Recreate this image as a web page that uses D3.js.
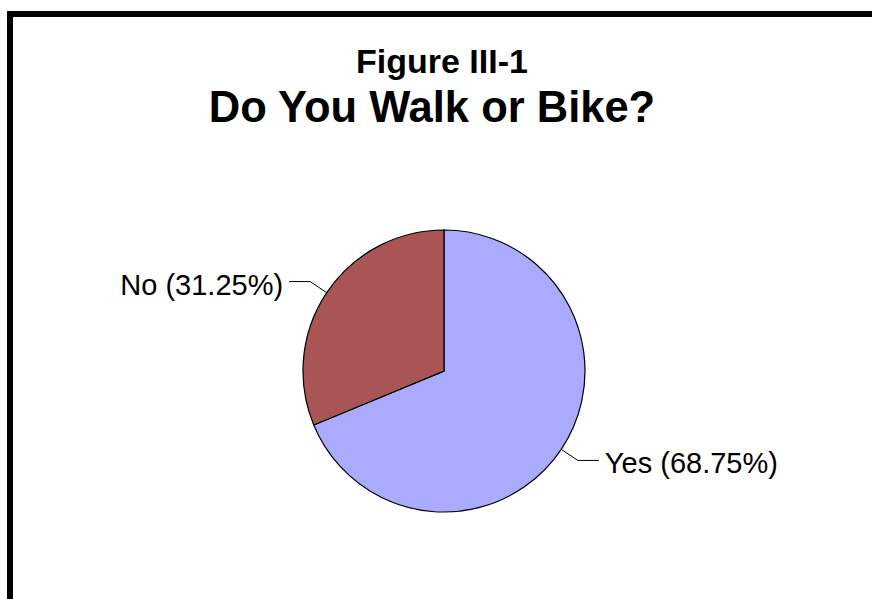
<!DOCTYPE html>
<html>
<head>
<meta charset="utf-8">
<script src="https://cdn.jsdelivr.net/npm/d3@7"></script>
<style>
  body { margin: 0; background: #fff; }
  text { font-family: Arial, "Liberation Sans", sans-serif; }
</style>
</head>
<body>
<div id="chart"></div>
<script>
var categories = ["Yes", "No"];
var values = [68.75, 31.25];
var colors = ["#aaaaff", "#aa5555"];
var titleLines = ["Figure III-1", "Do You Walk or Bike?"];

var width = 872, height = 599;
var cx = 444, cy = 371, radius = 141;

var svg = d3.select("#chart").append("svg")
    .attr("width", width)
    .attr("height", height);

svg.append("rect")
    .attr("width", width)
    .attr("height", height)
    .attr("fill", "#fff");

// frame (right and bottom edges run off the page)
svg.append("rect")
    .attr("x", 10)
    .attr("y", 14)
    .attr("width", 880)
    .attr("height", 640)
    .attr("fill", "none")
    .attr("stroke", "#000")
    .attr("stroke-width", 6);

// title
svg.append("text")
    .attr("x", 442)
    .attr("y", 73)
    .attr("text-anchor", "middle")
    .style("font-size", "34px")
    .style("font-weight", "bold")
    .text(titleLines[0]);

svg.append("text")
    .attr("x", 432)
    .attr("y", 122)
    .attr("text-anchor", "middle")
    .style("font-size", "43.5px")
    .style("font-weight", "bold")
    .text(titleLines[1]);

var data = categories.map(function (c, i) {
    return {name: c, value: values[i], color: colors[i]};
});

var pie = d3.pie()
    .sort(null)
    .value(function (d) { return d.value; });

var arc = d3.arc()
    .innerRadius(0)
    .outerRadius(radius);

var g = svg.append("g")
    .attr("transform", "translate(" + cx + "," + cy + ")");

var arcs = pie(data);

g.selectAll("path")
    .data(arcs)
    .enter()
    .append("path")
    .attr("d", arc)
    .attr("fill", function (d) { return d.data.color; })
    .attr("stroke", "#000")
    .attr("stroke-width", 1.2);

// leader lines and labels
arcs.forEach(function (d) {
    var mid = (d.startAngle + d.endAngle) / 2;
    var sx = Math.sin(mid), sy = -Math.cos(mid);
    var p0 = [sx * radius, sy * radius];
    var p1 = [sx * (radius + 20), sy * (radius + 20)];
    var side = sx >= 0 ? 1 : -1;
    var p2 = [p1[0] + side * 21, p1[1]];

    g.append("path")
        .attr("d", d3.line()([p0, p1, p2]))
        .attr("fill", "none")
        .attr("stroke", "#000")
        .attr("stroke-width", 1);

    g.append("text")
        .attr("x", p2[0] + side * 6)
        .attr("y", p2[1])
        .attr("dy", "0.45em")
        .attr("text-anchor", side > 0 ? "start" : "end")
        .style("font-size", "29px")
        .text(d.data.name + " (" + d.data.value.toFixed(2) + "%)");
});
</script>
</body>
</html>
